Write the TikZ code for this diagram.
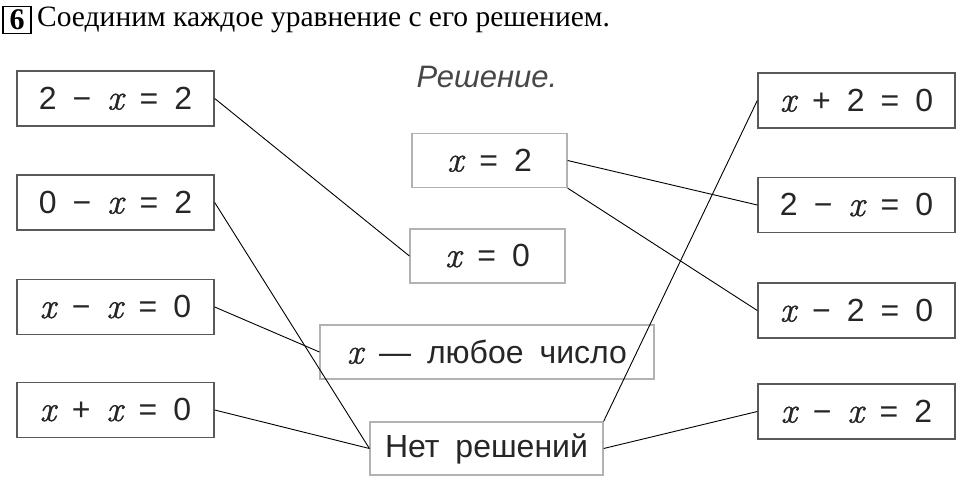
\documentclass[tikz,border=0pt]{standalone}
\usepackage{fontspec}
\setmainfont{Liberation Serif}
\newfontfamily\boxfont[WordSpace=1.8]{Liberation Sans}
\newfontfamily\lmfont[Scale=1.12, FakeBold=1.2]{Latin Modern Roman}
\newcommand{\vx}{{\lmfont\itshape x}}
\usepackage{tikz}
\definecolor{frame}{rgb}{0.35,0.35,0.35}
\definecolor{soft}{rgb}{0.70,0.70,0.70}

\begin{document}
\begin{tikzpicture}[x=1pt, y=-1pt,
		  eqbox/.style={draw=frame, line width=1.4pt, minimum width=197pt, minimum height=55pt, inner sep=0pt, font=\boxfont\fontsize{32}{36}\selectfont, text=black!85},
		  solbox/.style={draw=soft, line width=1.2pt, minimum height=54pt, inner sep=0pt, font=\boxfont\fontsize{32}{36}\selectfont, text=black!85},
		  link/.style={line width=0.9pt}]
		  \useasboundingbox (0,0) rectangle (960,481);
		  % task header
		  \node[draw, line width=1.6pt, minimum width=28pt, minimum height=27pt, inner sep=0pt, font=\bfseries\fontsize{30}{32}\selectfont] (num) at (17,20) {6};
		  \node[anchor=west, inner sep=0pt, font=\fontsize{29.5}{32}\selectfont] (task) at (37,20) {Соединим каждое уравнение с его решением.};
		  \node[font=\boxfont\itshape\fontsize{31}{34}\selectfont, text=black!72] (head) at (487,77) {Решение.};
		  % equations on the left
		  \node[eqbox] (l1) at (115.5,98.5) {2 − \vx{} = 2};
		  \node[eqbox] (l2) at (115.5,202.5) {0 − \vx{} = 2};
		  \node[eqbox] (l3) at (115.5,307) {\vx{} − \vx{} = 0};
		  \node[eqbox] (l4) at (115.5,410) {\vx{} + \vx{} = 0};
		  % equations on the right
		  \node[eqbox] (r1) at (856.5,100.5) {\vx{} + 2 = 0};
		  \node[eqbox] (r2) at (856.5,205) {2 − \vx{} = 0};
		  \node[eqbox] (r3) at (856.5,310.5) {\vx{} − 2 = 0};
		  \node[eqbox] (r4) at (856.5,411.5) {\vx{} − \vx{} = 2};
		  % solutions
		  \node[solbox, minimum width=155pt] (s2) at (489.5,160.5) {\vx{} = 2};
		  \node[solbox, minimum width=155pt] (s0) at (487.5,256) {\vx{} = 0};
		  \node[solbox, minimum width=334pt] (any) at (487,352) {\vx{} — любое число};
		  \node[solbox, minimum width=233pt, minimum height=53pt] (none) at (486.5,448.5) {Нет решений};
		  % connectors
		  \draw[link] (l1.east) -- (s0.west);
		  \draw[link] (l2.east) -- (none.west);
		  \draw[link] (l3.east) -- (any.west);
		  \draw[link] (l4.east) -- (none.west);
		  \draw[link] (s2.east) -- (r2.west);
		  \draw[link] (s2.south east) -- (r3.west);
		  \draw[link] (none.north east) -- (r1.west);
		  \draw[link] (none.east) -- (r4.west);
\end{tikzpicture}
\end{document}
